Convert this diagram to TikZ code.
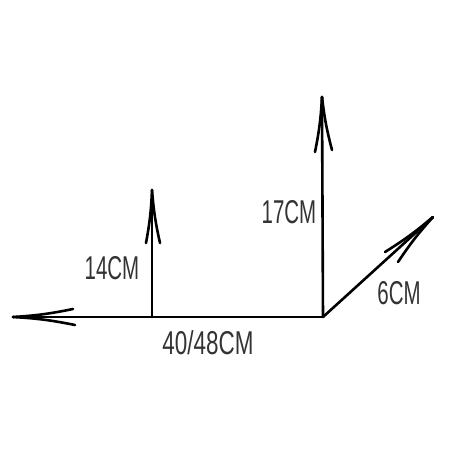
\documentclass[tikz,border=0pt]{standalone}
\usepackage{fontspec}
\setmainfont{Liberation Sans}
\begin{document}
\begin{tikzpicture}[x=1pt,y=-1pt,
  stroke/.style={line width=2.6pt,line cap=round,black},
  barb/.style={line width=2.6pt,line cap=round,black},
  lbl/.style={font=\fontsize{33}{33}\selectfont,text=black!80,inner sep=0pt}]
\useasboundingbox (0,0) rectangle (450,450);
\coordinate (O) at (323,317);
\coordinate (L) at (13,317);
\coordinate (A) at (152,317);
\coordinate (At) at (152,190);
\coordinate (B) at (322,97);
\coordinate (D) at (433,217);
% barb ends
\coordinate (L1) at (73,309);
\coordinate (L2) at (75,325);
\coordinate (A1) at (146,243);
\coordinate (A2) at (160,243);
\coordinate (B1) at (315,152);
\coordinate (B2) at (332,150);
\coordinate (D1) at (385,252);
\coordinate (D2) at (398,262);
\draw[stroke] (L) -- (O);
\draw[stroke] (A) -- (At);
\draw[stroke] (O) -- (B);
\draw[stroke] (O) -- (D);
\draw[barb] (L) to[bend right=4] (L1);
\draw[barb] (L) to[bend left=4] (L2);
\draw[barb] (At) to[bend left=4] (A1);
\draw[barb] (At) to[bend right=4] (A2);
\draw[barb] (B) to[bend left=4] (B1);
\draw[barb] (B) to[bend right=4] (B2);
\draw[barb] (D) to[bend left=4] (D1);
\draw[barb] (D) to[bend right=4] (D2);
\node[lbl] (t14) at (112,268) {\scalebox{0.62}[1]{14CM}};
\node[lbl] (t17) at (289,212) {\scalebox{0.62}[1]{17CM}};
\node[lbl] (t6) at (399,293) {\scalebox{0.62}[1]{6CM}};
\node[lbl] (t40) at (208,343) {\scalebox{0.68}[1]{40/48CM}};
\end{tikzpicture}
\end{document}
